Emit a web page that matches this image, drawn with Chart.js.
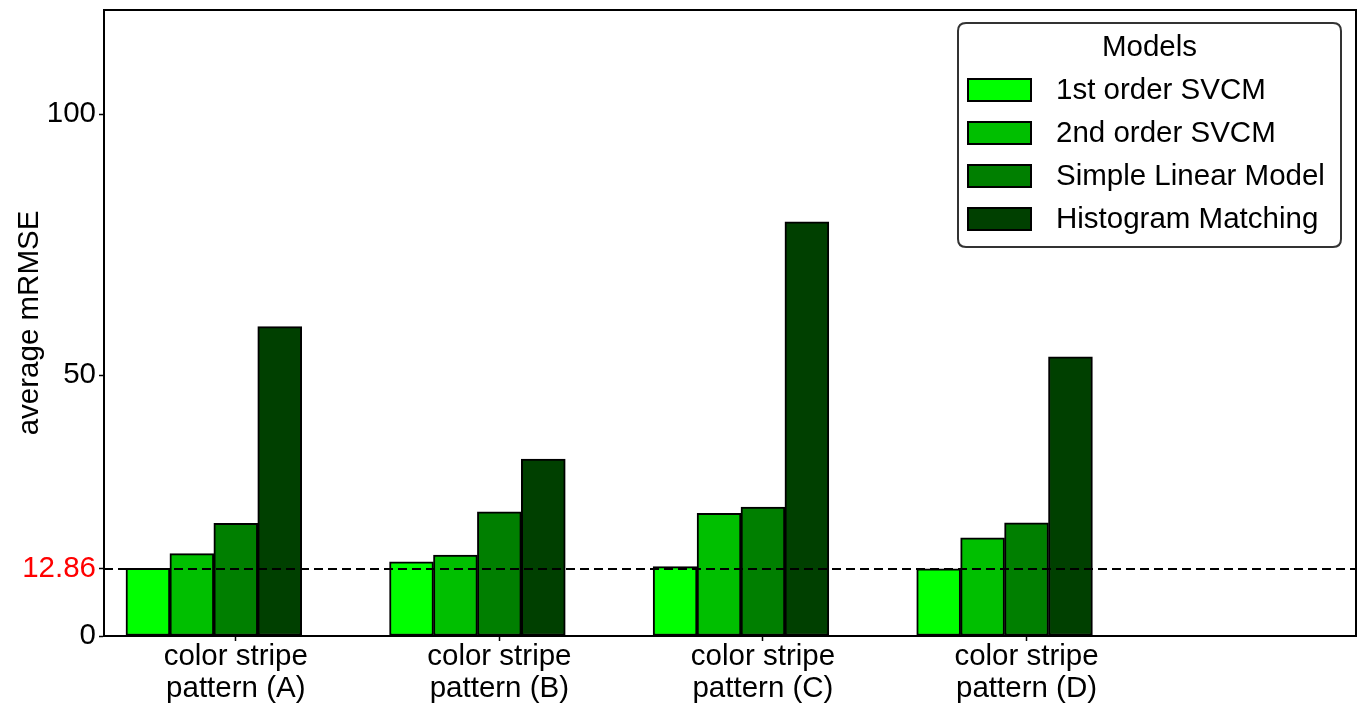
<!DOCTYPE html>
<html>
<head>
<meta charset="utf-8">
<script src="https://cdn.jsdelivr.net/npm/chart.js@4.4.1/dist/chart.umd.min.js"></script>
<style>
  html, body { margin: 0; padding: 0; background: #ffffff; }
  canvas { display: block; }
</style>
</head>
<body>
<canvas id="c" width="1359" height="704"></canvas>
<script>
// ---- data ----
const categories = [
  ['color stripe', 'pattern (A)'],
  ['color stripe', 'pattern (B)'],
  ['color stripe', 'pattern (C)'],
  ['color stripe', 'pattern (D)']
];
const models = ['1st order SVCM', '2nd order SVCM', 'Simple Linear Model', 'Histogram Matching'];
const svcm1st = [12.95, 14.2, 13.3, 12.86];
const svcm2nd = [15.8, 15.5, 23.5, 18.8];
const linearModel = [21.6, 23.8, 24.7, 21.7];
const histMatching = [59.3, 33.9, 79.4, 53.5];
const bestValue = 12.86;
const yTickValues = [0, 12.86, 50, 100];
const legendTitle = 'Models';
const yTitle = 'average mRMSE';

// ---- styles ----
const colors = ['#00ff00', '#00bf00', '#007f00', '#004000'];
const FONT = "'Liberation Sans', Arial, sans-serif";
const FS = 29.5;
const BAR_STEP = 1 / 6;     // bar width in category units
const X_MIN = -0.5, X_MAX = 4.25;
const Y_MIN = 0, Y_MAX = 120;

const seriesValues = [svcm1st, svcm2nd, linearModel, histMatching];

const barDatasets = models.map((name, i) => ({
  type: 'bar',
  label: name,
  data: seriesValues[i].map((v, k) => ({ x: k + (i - 2) * BAR_STEP, y: v })),
  backgroundColor: colors[i],
  borderColor: '#000000',
  borderWidth: 2,
  borderSkipped: false,
  grouped: false,
  barPercentage: 1,
  categoryPercentage: 1,
  order: 2
}));

const refLine = {
  type: 'line',
  label: 'best',
  data: [{ x: X_MIN, y: bestValue }, { x: X_MAX, y: bestValue }],
  borderColor: '#000000',
  borderWidth: 2,
  borderDash: [9, 5],
  pointRadius: 0,
  fill: false,
  order: 0
};

// frame + legend plugin
const framePlugin = {
  id: 'frameLegend',
  afterDraw(chart) {
    const ctx = chart.ctx;
    const a = chart.chartArea;
    ctx.save();
    ctx.strokeStyle = '#000000';
    ctx.lineWidth = 2;
    ctx.strokeRect(a.left, a.top, a.right - a.left, a.bottom - a.top);

    // legend box
    const bx = a.right - 398, by = a.top + 13, bw = 383, bh = 224;
    const r = 8;
    ctx.beginPath();
    ctx.moveTo(bx + r, by);
    ctx.lineTo(bx + bw - r, by);
    ctx.quadraticCurveTo(bx + bw, by, bx + bw, by + r);
    ctx.lineTo(bx + bw, by + bh - r);
    ctx.quadraticCurveTo(bx + bw, by + bh, bx + bw - r, by + bh);
    ctx.lineTo(bx + r, by + bh);
    ctx.quadraticCurveTo(bx, by + bh, bx, by + bh - r);
    ctx.lineTo(bx, by + r);
    ctx.quadraticCurveTo(bx, by, bx + r, by);
    ctx.closePath();
    ctx.fillStyle = '#ffffff';
    ctx.fill();
    ctx.strokeStyle = '#333333';
    ctx.lineWidth = 2;
    ctx.stroke();

    ctx.font = FS + 'px ' + FONT;
    ctx.fillStyle = '#000000';
    ctx.textAlign = 'center';
    ctx.textBaseline = 'middle';
    ctx.fillText(legendTitle, bx + bw / 2, by + 25);

    const bars = chart.data.datasets.filter(d => d.type === 'bar');
    ctx.textAlign = 'left';
    bars.forEach((d, i) => {
      const cy = by + 67 + i * 43;
      ctx.fillStyle = d.backgroundColor;
      ctx.fillRect(bx + 10, cy - 11, 63, 22);
      ctx.strokeStyle = '#000000';
      ctx.lineWidth = 2;
      ctx.strokeRect(bx + 10, cy - 11, 63, 22);
      ctx.fillStyle = '#000000';
      ctx.fillText(d.label, bx + 98, cy + 1);
    });
    ctx.restore();
  }
};

new Chart(document.getElementById('c'), {
  type: 'bar',
  data: { datasets: [...barDatasets, refLine] },
  options: {
    responsive: false,
    devicePixelRatio: 1,
    animation: false,
    layout: { padding: { top: 10, right: 3, left: 0, bottom: 0 } },
    plugins: { legend: { display: false }, tooltip: { enabled: false } },
    scales: {
      x: {
        type: 'linear',
        min: X_MIN,
        max: X_MAX,
        offset: false,
        afterBuildTicks: (s) => { s.ticks = categories.map((c, i) => ({ value: i })); },
        afterFit: (s) => { s.height = 68; s.paddingLeft = 0; s.paddingRight = 0; },
        ticks: {
          autoSkip: false,
          maxRotation: 0,
          minRotation: 0,
          padding: 0,
          color: '#000000',
          font: { family: FONT, size: FS, lineHeight: 1.08 },
          callback: (v) => categories[Math.round(v)] || ''
        },
        grid: { offset: false, drawOnChartArea: false, drawTicks: true, tickLength: 5, tickColor: '#000000', tickWidth: 1.5 },
        border: { display: true, color: '#000000', width: 2 }
      },
      y: {
        min: Y_MIN,
        max: Y_MAX,
        afterBuildTicks: (s) => { s.ticks = yTickValues.map(v => ({ value: v })); },
        afterFit: (s) => { s.width = 104; s.paddingTop = 0; s.paddingBottom = 0; },
        ticks: {
          padding: 3,
          font: { family: FONT, size: FS },
          color: (c) => (c.tick && c.tick.value === bestValue) ? '#ff0000' : '#000000',
          callback: (v) => String(v)
        },
        grid: { drawOnChartArea: false, drawTicks: true, tickLength: 5, tickColor: '#000000', tickWidth: 1.5 },
        border: { display: true, color: '#000000', width: 2 },
        title: {
          display: true,
          text: yTitle,
          color: '#000000',
          font: { family: FONT, size: FS, lineHeight: 1.2 },
          padding: { top: 12, bottom: 0 }
        }
      }
    }
  },
  plugins: [framePlugin]
});
</script>
</body>
</html>
